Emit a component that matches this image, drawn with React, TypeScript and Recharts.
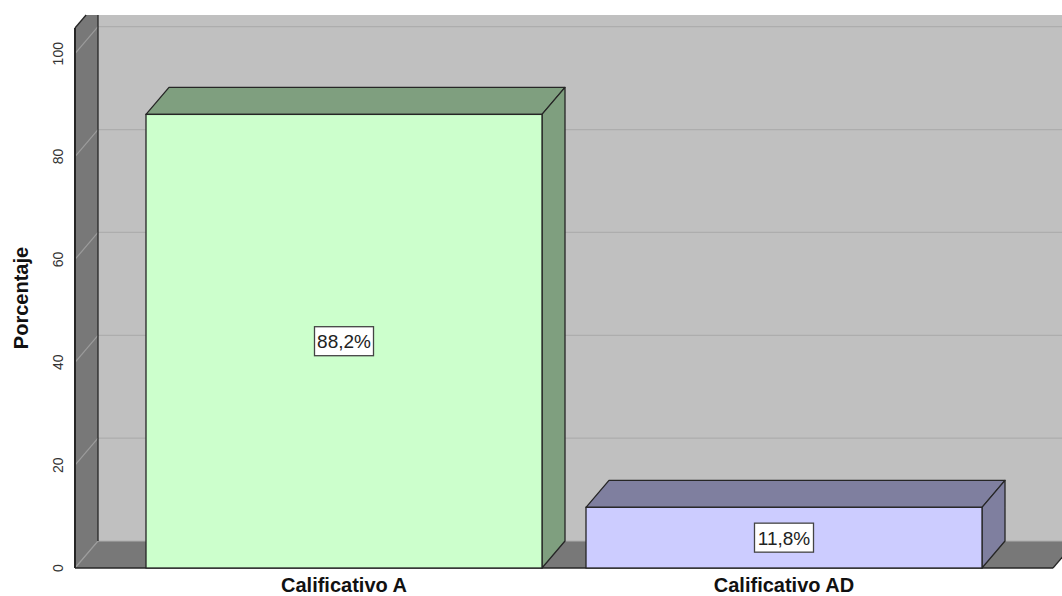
import React from 'react';
import { BarChart, Bar, XAxis, YAxis, CartesianGrid, LabelList, Label } from 'recharts';

const categories = ['Calificativo A', 'Calificativo AD'];
const percentages = [88.2, 11.8];
const yTicks = [0, 20, 40, 60, 80, 100];
const yDomain = [0, 105];

const data = categories.map((name, i) => ({ name, value: percentages[i] }));

const FRONT_COLORS = ['#ccffcc', '#ccccff'];
const SIDE_COLORS = ['#7f9f7f', '#7f7f9f'];
const DX = 23;
const DY = 27;
const TOP_CLIP = 13;
const EDGE = '#262626';
const WALL = '#c0c0c0';
const SIDE_WALL = '#787878';
const FONT = '"Liberation Sans", Arial, Helvetica, sans-serif';

function pts(arr: number[][]) {
  return arr.map((p) => p.join(',')).join(' ');
}

function Bar3D(props: any) {
  const { x, y, width, height, index } = props;
  if (width == null || height == null) return null;
  const side = SIDE_COLORS[index % SIDE_COLORS.length];
  const front = FRONT_COLORS[index % FRONT_COLORS.length];
  const top = pts([
    [x, y],
    [x + DX, y - DY],
    [x + width + DX, y - DY],
    [x + width, y],
  ]);
  const right = pts([
    [x + width, y],
    [x + width + DX, y - DY],
    [x + width + DX, y + height - DY],
    [x + width, y + height],
  ]);
  return (
    <g>
      <polygon points={top} fill={side} stroke={EDGE} strokeWidth={1.3} strokeLinejoin="round" />
      <polygon points={right} fill={side} stroke={EDGE} strokeWidth={1.3} strokeLinejoin="round" />
      <rect x={x} y={y} width={width} height={height} fill={front} stroke={EDGE} strokeWidth={1.3} />
    </g>
  );
}

function GridLine(props: any) {
  const { x1, y1, x2, index, x, y, width, height, horizontalPoints } = props;
  const parts: any[] = [];
  const hasBox = x != null && y != null && width != null && height != null;
  if (index === 0 && hasBox) {
    const bottom = y + height;
    parts.push(
      <rect key="bw" x={x + DX} y={y - TOP_CLIP} width={width + DX} height={height - DY + TOP_CLIP} fill={WALL} />
    );
    parts.push(
      <polygon
        key="lw"
        points={pts([
          [x, bottom],
          [x, y],
          [x + (TOP_CLIP * DX) / DY, y - TOP_CLIP],
          [x + DX, y - TOP_CLIP],
          [x + DX, bottom - DY],
        ])}
        fill={SIDE_WALL}
      />
    );
    parts.push(
      <polygon
        key="fl"
        points={pts([
          [x, bottom],
          [x + DX, bottom - DY],
          [x + width + DX, bottom - DY],
          [x + width, bottom],
        ])}
        fill={SIDE_WALL}
      />
    );
  }
  const isTopEdge = hasBox && Math.abs(y1 - y) < 1;
  if (!isTopEdge) {
    parts.push(
      <line key="b" x1={x1 + DX} y1={y1 - DY} x2={x2 + DX} y2={y1 - DY} stroke="#adadad" strokeWidth={1.2} />
    );
    parts.push(<line key="d" x1={x1} y1={y1} x2={x1 + DX} y2={y1 - DY} stroke="#9c9c9c" strokeWidth={1.2} />);
  }
  const isLast = !horizontalPoints || index === horizontalPoints.length - 1;
  if (isLast && hasBox) {
    const bottom = y + height;
    parts.push(
      <g key="edges">
        <line x1={x} y1={y} x2={x} y2={bottom} stroke={EDGE} strokeWidth={2} />
        <line x1={x} y1={y} x2={x + (TOP_CLIP * DX) / DY} y2={y - TOP_CLIP} stroke={EDGE} strokeWidth={1.3} />
        <line x1={x + DX} y1={y - TOP_CLIP} x2={x + DX} y2={bottom - DY} stroke={EDGE} strokeWidth={1.3} />
        <line x1={x} y1={bottom} x2={x + width} y2={bottom} stroke={EDGE} strokeWidth={1.5} />
        <line x1={x + width} y1={bottom} x2={x + width + DX} y2={bottom - DY} stroke={EDGE} strokeWidth={1.3} />
      </g>
    );
  }
  return <g>{parts}</g>;
}

function YTick(props: any) {
  const { x, y, payload } = props;
  return (
    <text
      x={x}
      y={y}
      transform={`rotate(-90, ${x}, ${y})`}
      textAnchor="middle"
      fontSize={14}
      fontFamily={FONT}
      fill="#333"
    >
      {payload.value}
    </text>
  );
}

function XTick(props: any) {
  const { x, y, payload } = props;
  return (
    <text x={x} y={y + 24} textAnchor="middle" fontSize={20} fontWeight="bold" fontFamily={FONT} fill="#111">
      {payload.value}
    </text>
  );
}

function YLabel(props: any) {
  const vb = props.viewBox || {};
  const cx = (vb.x ?? 0) + 28;
  const cy = (vb.y ?? 0) + (vb.height ?? 0) / 2;
  return (
    <text
      x={cx}
      y={cy}
      transform={`rotate(-90, ${cx}, ${cy})`}
      textAnchor="middle"
      fontSize={20}
      fontWeight="bold"
      fontFamily={FONT}
      fill="#111"
    >
      Porcentaje
    </text>
  );
}

function BarLabel(props: any) {
  const { x, y, width, height, value } = props;
  const cx = Number(x) + Number(width) / 2;
  const cy = Number(y) + Number(height) / 2;
  const text = `${Number(value).toFixed(1).replace('.', ',')}%`;
  const w = 59;
  const h = 29;
  return (
    <g>
      <rect x={cx - w / 2} y={cy - h / 2} width={w} height={h} fill="#ffffff" stroke="#444" strokeWidth={1.3} />
      <text x={cx} y={cy + 7} textAnchor="middle" fontSize={19} fontFamily={FONT} fill="#222">
        {text}
      </text>
    </g>
  );
}

export default function App() {
  return (
    <div style={{ position: 'absolute', left: 0, top: 0, width: 1062, height: 596, background: '#fff' }}>
      <BarChart
        width={1062}
        height={596}
        data={data}
        margin={{ top: 28, right: 9, left: 0, bottom: 0 }}
        barCategoryGap="5%"
      >
        <CartesianGrid vertical={false} horizontal={GridLine as any} />
        <XAxis
          dataKey="name"
          height={28}
          axisLine={false}
          tickLine={false}
          tickSize={0}
          tickMargin={0}
          padding={{ left: 49, right: 49 }}
          tick={<XTick />}
          interval={0}
        />
        <YAxis
          domain={yDomain}
          ticks={yTicks}
          width={75}
          axisLine={false}
          tickLine={false}
          tickSize={0}
          tickMargin={12}
          tick={<YTick />}
          interval={0}
        >
          <Label content={YLabel as any} />
        </YAxis>
        <Bar dataKey="value" isAnimationActive={false} shape={Bar3D as any}>
          <LabelList dataKey="value" content={BarLabel as any} />
        </Bar>
      </BarChart>
    </div>
  );
}
